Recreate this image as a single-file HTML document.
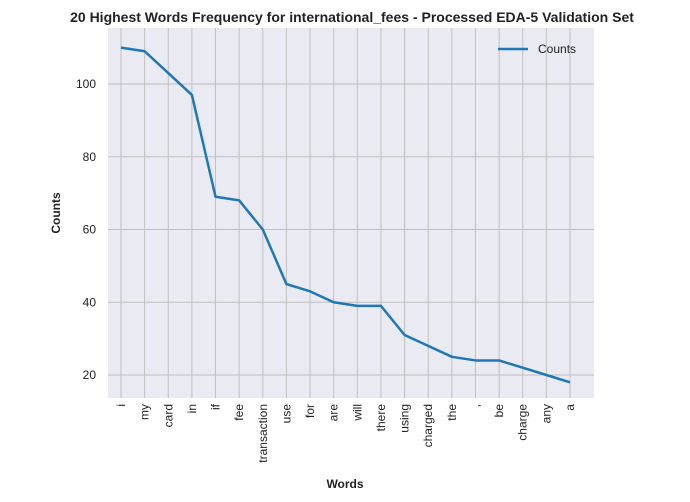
<!DOCTYPE html>
<html><head><meta charset="utf-8"><style>body{margin:0;background:#fff}svg{display:block;font-family:"Liberation Sans",Arial,sans-serif}</style></head>
<body>
<svg id="chart" width="690" height="502" xmlns="http://www.w3.org/2000/svg">
<text x="352" y="22" text-anchor="middle" font-size="14" font-weight="bold" fill="#222">20 Highest Words Frequency for international_fees - Processed EDA-5 Validation Set</text>
<rect x="108" y="28" width="486" height="370" fill="#eaeaf2"/>
<g id="grid"></g><g id="ticks"></g>
<text transform="translate(60,213) rotate(-90)" text-anchor="middle" font-size="12" font-weight="bold" fill="#222">Counts</text>
<text x="345" y="488" text-anchor="middle" font-size="12" font-weight="bold" fill="#222">Words</text>
<g>
<line x1="498" y1="49" x2="528" y2="49" stroke="#1f77b4" stroke-width="2.5"/>
<text x="538" y="53" font-size="12" fill="#222">Counts</text>
</g>
</svg>
<script>
const words=["i","my","card","in","if","fee","transaction","use","for","are","will","there","using","charged","the",",","be","charge","any","a"];
const counts=[110,109,103,97,69,68,60,45,43,40,39,39,31,28,25,24,24,22,20,18];
const yTicks=[20,40,60,80,100];
const NS="http://www.w3.org/2000/svg";
const svg=document.getElementById('chart');
const grid=document.getElementById('grid'),ticks=document.getElementById('ticks');
const x=i=>121+i*(570-121)/(words.length-1);
const y=v=>375-(v-20)*3.6375;
function mk(t,a,p){const e=document.createElementNS(NS,t);for(const k in a)e.setAttribute(k,a[k]);p.appendChild(e);return e;}
yTicks.forEach(v=>{
 const l=mk('line',{x1:108,x2:594,y1:y(v),y2:y(v),stroke:'#c0c0c0','stroke-width':1},grid);
 
 
 const t=mk('text',{x:96,y:y(v)+4,'text-anchor':'end','font-size':12,fill:'#222'},ticks);
 t.textContent=v;
 
 
});
words.forEach((w,i)=>{
 const l=mk('line',{x1:x(i),x2:x(i),y1:28,y2:398,stroke:'#c0c0c0','stroke-width':1},grid);
 
 
 const t=mk('text',{transform:`translate(${x(i)+4},404) rotate(-90)`,'text-anchor':'end','font-size':12,fill:'#222'},ticks);
 t.textContent=w;
 
 
});
const p=mk('polyline',{points:counts.map((c,i)=>x(i)+','+y(c)).join(' '),fill:'none',stroke:'#1f77b4','stroke-width':2.5,'stroke-linejoin':'round'},svg);


</script>
</body></html>
